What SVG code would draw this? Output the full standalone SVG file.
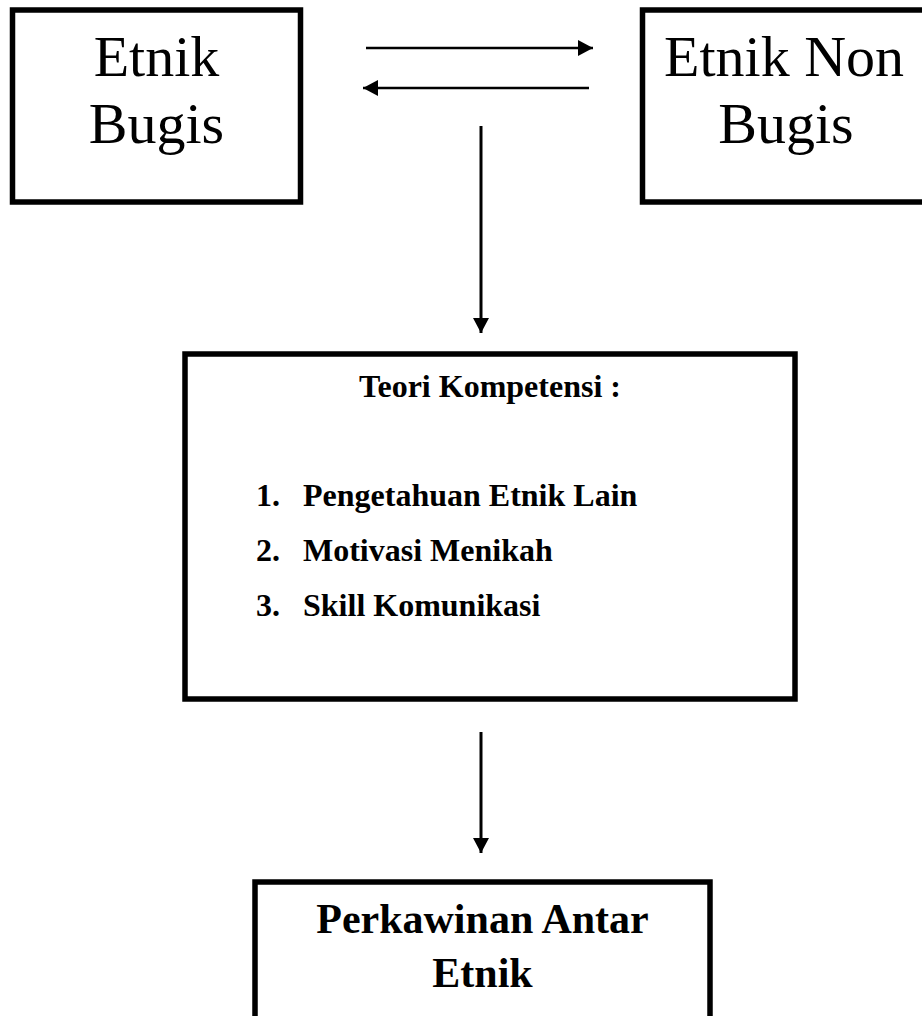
<svg xmlns="http://www.w3.org/2000/svg" width="922" height="1016" viewBox="0 0 922 1016">
<style>
.box{fill:#fff;stroke:#000;stroke-width:5.5}
.big{font-family:"Liberation Serif","Times New Roman",serif;font-size:58px;fill:#000;text-anchor:middle}
.b{font-family:"Liberation Serif","Times New Roman",serif;font-weight:bold;fill:#000}
.con{stroke:#000;stroke-width:2.5;fill:none}
.conv{stroke:#000;stroke-width:3;fill:none}
</style>
<defs>
<marker id="ah" markerUnits="userSpaceOnUse" markerWidth="16" markerHeight="18" refX="15" refY="8" orient="auto">
<polygon points="0,0 15,8 0,16" fill="#000"/>
</marker>
</defs>
<rect width="922" height="1016" fill="#fff"/>
<g id="connectors">
<line class="con" x1="366" y1="48" x2="593" y2="48" marker-end="url(#ah)"/>
<line class="con" x1="589" y1="88" x2="363" y2="88" marker-end="url(#ah)"/>
<line class="conv" x1="481" y1="126" x2="481" y2="333" marker-end="url(#ah)"/>
<line class="conv" x1="481" y1="732" x2="481" y2="853" marker-end="url(#ah)"/>
</g>
<g id="etnik-bugis">
<rect class="box" x="12.5" y="10" width="288" height="192"/>
<text class="big" x="156.5" y="76">Etnik</text>
<text class="big" x="156.5" y="143">Bugis</text>
</g>
<g id="etnik-non-bugis">
<rect class="box" x="642.5" y="10" width="290" height="192"/>
<text class="big" x="784" y="76">Etnik Non</text>
<text class="big" x="786" y="143">Bugis</text>
</g>
<g id="teori-kompetensi">
<rect class="box" x="185" y="354" width="610" height="345"/>
<text class="b" x="490" y="397" font-size="32" text-anchor="middle">Teori Kompetensi :</text>
<text class="b" x="256" y="506" font-size="32">1.</text>
<text class="b" x="303" y="506" font-size="32">Pengetahuan Etnik Lain</text>
<text class="b" x="256" y="561" font-size="32">2.</text>
<text class="b" x="303" y="561" font-size="32">Motivasi Menikah</text>
<text class="b" x="256" y="616" font-size="32">3.</text>
<text class="b" x="303" y="616" font-size="32">Skill Komunikasi</text>
</g>
<g id="perkawinan">
<rect class="box" x="255" y="882" width="455" height="160"/>
<text class="b" x="482.5" y="933" font-size="42" text-anchor="middle">Perkawinan Antar</text>
<text class="b" x="482.5" y="987" font-size="42" text-anchor="middle">Etnik</text>
</g>
</svg>
